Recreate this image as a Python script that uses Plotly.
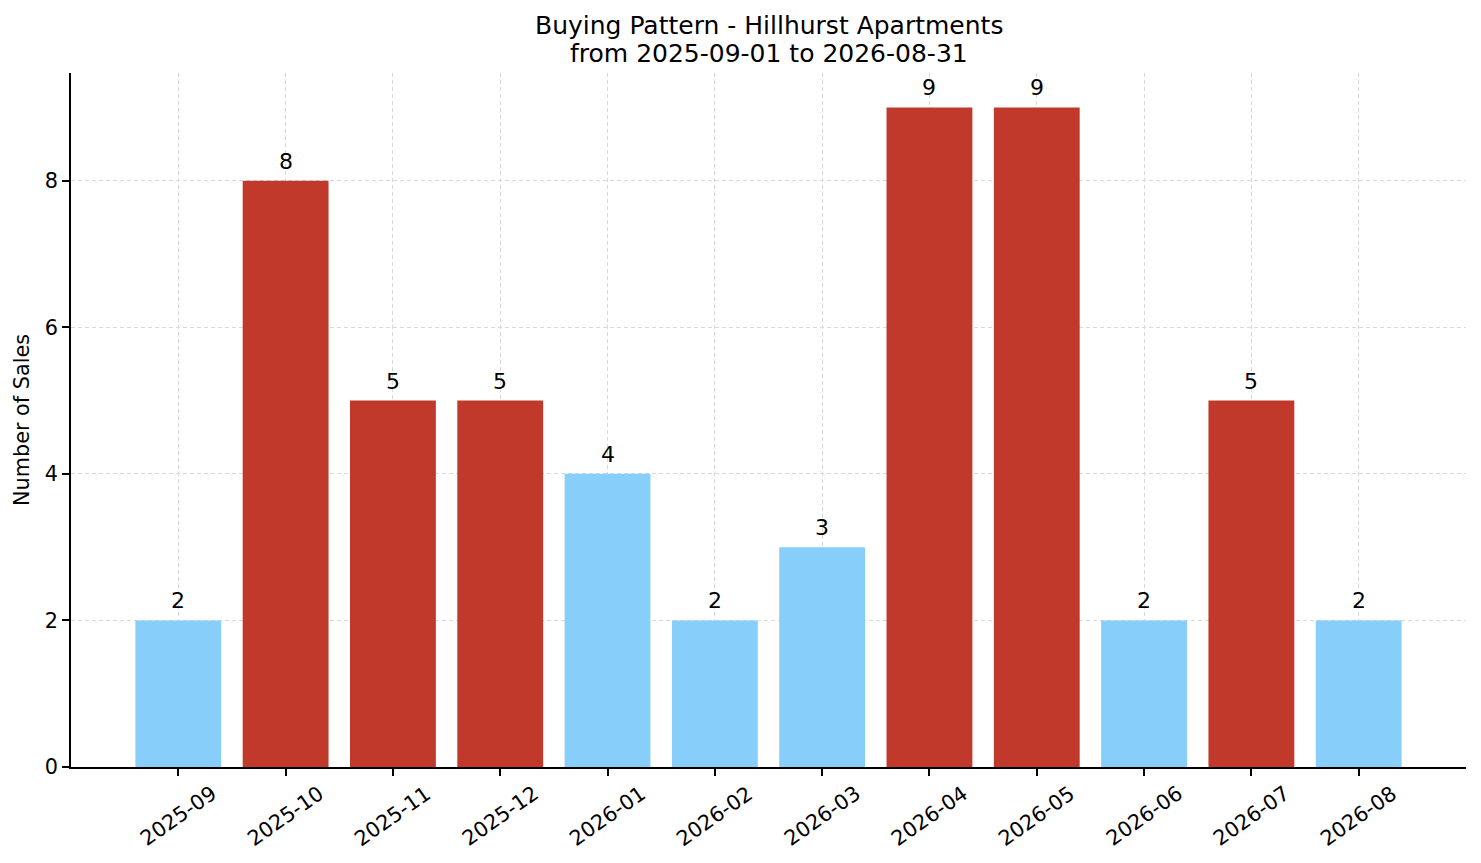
import plotly.graph_objects as go

months = ['2025-09', '2025-10', '2025-11', '2025-12', '2026-01', '2026-02',
          '2026-03', '2026-04', '2026-05', '2026-06', '2026-07', '2026-08']
sales = [2, 8, 5, 5, 4, 2, 3, 9, 9, 2, 5, 2]
y_ticks = [0, 2, 4, 6, 8]
title_lines = ['Buying Pattern - Hillhurst Apartments', 'from 2025-09-01 to 2026-08-31']

# months above the average get the red colour
avg = sum(sales) / len(sales)
colors = ['#C0392B' if s > avg else '#87CEFA' for s in sales]

font = 'DejaVu Sans, sans-serif'
pos = list(range(len(months)))

fig = go.Figure(go.Bar(
    x=pos, y=sales, width=0.8,
    marker=dict(color=colors, line=dict(width=0)),
))

fig.update_layout(
    width=1481, height=863,
    paper_bgcolor='white', plot_bgcolor='white',
    margin=dict(l=71, r=15, t=73, b=96),
    showlegend=False,
)
fig.update_xaxes(
    range=[-1.0, 12.0], tickmode='array', tickvals=pos, showticklabels=False,
    ticks='outside', ticklen=7, tickwidth=1.6, tickcolor='black',
    showline=True, linecolor='black', linewidth=1.6,
    showgrid=True, gridcolor='#d9d9d9', griddash='4px,3px', gridwidth=0.8,
    layer='above traces', zeroline=False,
)
fig.update_yaxes(
    range=[0, 9.47], tickmode='array', tickvals=y_ticks,
    ticks='outside', ticklen=7, tickwidth=1.6, tickcolor='black',
    showline=True, linecolor='black', linewidth=1.6,
    showgrid=True, gridcolor='#d9d9d9', griddash='4px,3px', gridwidth=0.8,
    tickfont=dict(family=font, size=20.8, color='black'),
    title=dict(text='Number of Sales', font=dict(family=font, size=20.8, color='black'), standoff=10),
    layer='above traces', zeroline=False,
)

# value labels above the bars
for p, s in zip(pos, sales):
    fig.add_annotation(x=p, y=s, text=str(s), showarrow=False,
                       xanchor='center', yanchor='bottom', yshift=5,
                       font=dict(family=font, size=22, color='black'))

# title as two lines
for line, shift in zip(title_lines, [48, 20]):
    fig.add_annotation(x=0.5, xref='paper', y=1, yref='paper', text=line, showarrow=False,
                       xanchor='center', yanchor='middle', yshift=shift,
                       font=dict(family=font, size=25, color='black'))

# rotated tick labels centred on each tick, as in the reference
for p, m in zip(pos, months):
    fig.add_annotation(x=p, xref='x', y=0, yref='paper', text=m, showarrow=False,
                       textangle=-35, xanchor='center', yanchor='middle', yshift=-49,
                       font=dict(family=font, size=20.8, color='black'))

fig.write_html('out.html', config={'displayModeBar': False},
               post_script="document.body.style.margin='0';")
